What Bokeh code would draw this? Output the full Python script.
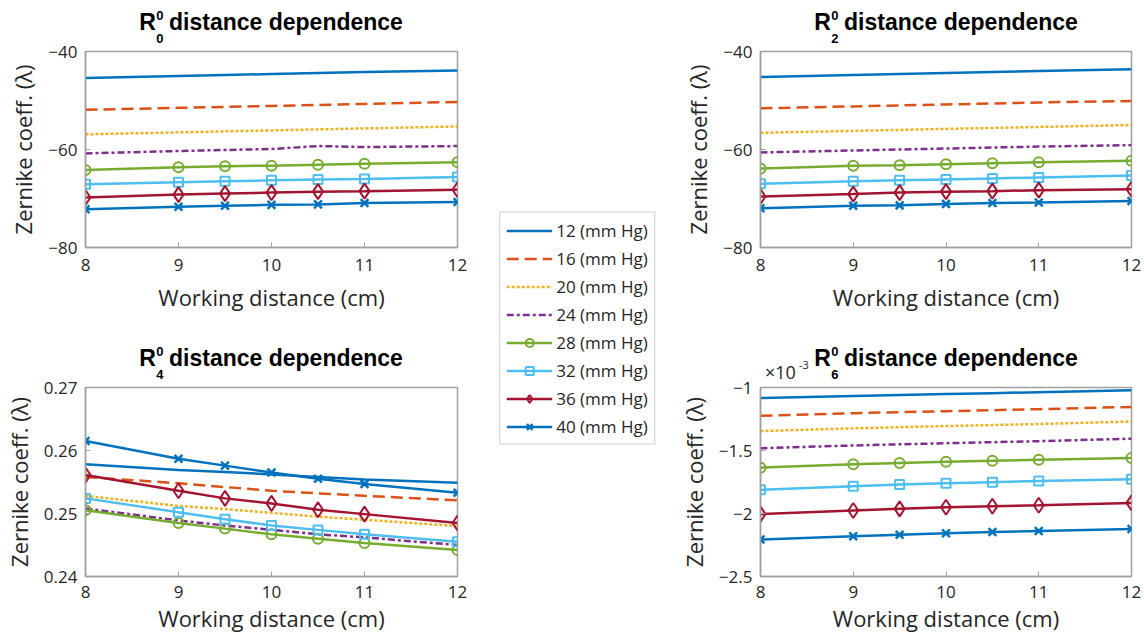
import json
import math
from bokeh.plotting import figure
from bokeh.layouts import row, column
from bokeh.models import (Range1d, FixedTicker, CustomJSTickFormatter, Legend, LegendItem,
                          LinearAxis)
from bokeh.embed import file_html
from bokeh.resources import INLINE

# ---------------- data ----------------
distance_cm = [8, 9, 9.5, 10, 10.5, 11, 12]
pressure_labels = ["12 (mm Hg)", "16 (mm Hg)", "20 (mm Hg)", "24 (mm Hg)",
                   "28 (mm Hg)", "32 (mm Hg)", "36 (mm Hg)", "40 (mm Hg)"]

r00 = [
    [-45.4, -45.0, -44.8, -44.6, -44.4, -44.2, -43.9],
    [-51.9, -51.5, -51.3, -51.1, -50.9, -50.7, -50.3],
    [-56.9, -56.5, -56.3, -56.1, -55.9, -55.7, -55.3],
    [-60.8, -60.3, -60.1, -59.9, -59.3, -59.5, -59.3],
    [-64.2, -63.6, -63.4, -63.3, -63.1, -62.9, -62.6],
    [-67.1, -66.7, -66.5, -66.3, -66.1, -66.0, -65.6],
    [-69.8, -69.2, -69.0, -68.8, -68.6, -68.5, -68.2],
    [-72.2, -71.7, -71.5, -71.3, -71.2, -70.9, -70.7],
]
r20 = [
    [-45.2, -44.8, -44.6, -44.4, -44.2, -44.0, -43.6],
    [-51.6, -51.2, -51.0, -50.8, -50.6, -50.4, -50.1],
    [-56.6, -56.2, -56.0, -55.8, -55.6, -55.4, -55.0],
    [-60.6, -60.2, -60.0, -59.8, -59.6, -59.4, -59.1],
    [-63.9, -63.3, -63.2, -63.0, -62.8, -62.6, -62.3],
    [-67.0, -66.5, -66.3, -66.1, -65.9, -65.7, -65.3],
    [-69.6, -69.1, -68.8, -68.6, -68.5, -68.3, -68.1],
    [-72.0, -71.5, -71.4, -71.1, -70.9, -70.8, -70.5],
]
r40 = [
    [0.2578, 0.2569, 0.2566, 0.2562, 0.2558, 0.2554, 0.2549],
    [0.2558, 0.2548, 0.2542, 0.2536, 0.2532, 0.2528, 0.2521],
    [0.2528, 0.2512, 0.2507, 0.2501, 0.2495, 0.2490, 0.2480],
    [0.2508, 0.2489, 0.2481, 0.2474, 0.2467, 0.2462, 0.2450],
    [0.2505, 0.2485, 0.2476, 0.2467, 0.2460, 0.2453, 0.2442],
    [0.2524, 0.2502, 0.2491, 0.2481, 0.2474, 0.2467, 0.2455],
    [0.2561, 0.2536, 0.2524, 0.2516, 0.2506, 0.2499, 0.2485],
    [0.2615, 0.2587, 0.2576, 0.2565, 0.2555, 0.2547, 0.2533],
]
# values in units of 1e-3
r60 = [
    [-1.084, -1.068, -1.060, -1.052, -1.045, -1.037, -1.021],
    [-1.225, -1.204, -1.196, -1.188, -1.180, -1.172, -1.154],
    [-1.346, -1.324, -1.315, -1.306, -1.298, -1.290, -1.270],
    [-1.482, -1.460, -1.451, -1.442, -1.434, -1.426, -1.406],
    [-1.636, -1.610, -1.599, -1.589, -1.581, -1.573, -1.560],
    [-1.812, -1.783, -1.770, -1.759, -1.751, -1.743, -1.728],
    [-2.005, -1.976, -1.963, -1.950, -1.942, -1.935, -1.916],
    [-2.207, -2.181, -2.168, -2.157, -2.147, -2.139, -2.123],
]
x_ticks = [8, 9, 10, 11, 12]

# ---------------- styles ----------------
COLORS = ["#0072BD", "#D95319", "#EDB120", "#7E2F8E", "#77AC30", "#4DBEEE", "#A2142F", "#0072BD"]
DASHES = ["solid", "12 6", "3 2", "7 3 3 3", "solid", "solid", "solid", "solid"]
MARKERS = [None, None, None, None, "circle", "square", "diamond", "x"]
MSIZES = [0, 0, 0, 0, 10, 9, 15, 11]
MLW = [0, 0, 0, 0, 2, 2, 2, 2.5]
LW = 2.5
FRAME = "#a0a0a0"
TXT = "#262626"
SANS = "Open Sans"
BOLD = "Liberation Sans"
# text-box height per em (font ascent + descent)
BOX_H = {BOLD: 1.117, SANS: 1.362}

minus_fmt = "return String(tick).replace('-', '\\u2212')"

BORDER_T = 51
BORDER_L = 84


def add_series(p, xs, ys, i):
    rs = [p.line(xs, ys, line_color=COLORS[i], line_width=LW, line_dash=DASHES[i])]
    if MARKERS[i]:
        rs.append(p.scatter(xs, ys, marker=MARKERS[i], size=MSIZES[i], line_color=COLORS[i],
                            line_width=MLW[i], fill_color=None))
    return rs


def title_pieces(p, frame_w, pieces):
    """Stack text-only axes above the frame.  Each piece:
    (texts, x-centres in px from frame left, font, size px, style, colour, baseline px above frame)
    Pieces are ordered by increasing top edge."""
    B = 0.0
    for texts, xs_px, font, size, style, color, base in pieces:
        h = BOX_H[font] * size
        standoff = int(round(base - B))
        if standoff + h < 0:
            standoff = int(math.ceil(-h))
        xs = [8 + 4.0 * x / frame_w for x in xs_px]
        ax = LinearAxis(ticker=FixedTicker(ticks=xs, minor_ticks=[]),
                        formatter=CustomJSTickFormatter(code="return %s[index]" % json.dumps(texts)),
                        axis_line_color=None, major_tick_line_color=None,
                        minor_tick_line_color=None, major_tick_in=0, major_tick_out=0,
                        minor_tick_in=0, minor_tick_out=0,
                        major_label_standoff=standoff,
                        major_label_text_font=font, major_label_text_font_size="%dpx" % size,
                        major_label_text_font_style=style, major_label_text_color=color)
        p.add_layout(ax, "above")
        B = B + standoff + h


def panel(series, y0, y1, yticks, width, height, mbr, mbb, tick_standoff, lab_standoff,
          sub, note=False):
    p = figure(width=width, height=height, output_backend="svg", toolbar_location=None,
               x_range=Range1d(8, 12), y_range=Range1d(y0, y1),
               min_border_left=BORDER_L, min_border_right=mbr, min_border_top=BORDER_T,
               min_border_bottom=mbb)
    frame_w = width - BORDER_L - mbr
    p.xgrid.visible = False
    p.ygrid.visible = False
    p.outline_line_color = FRAME
    p.outline_line_width = 1.5
    p.background_fill_color = "white"
    p.border_fill_color = "white"
    for ax, t in ((p.xaxis[0], x_ticks), (p.yaxis[0], yticks)):
        ax.ticker = FixedTicker(ticks=t, minor_ticks=[])
        ax.formatter = CustomJSTickFormatter(code=minus_fmt)
        ax.major_tick_in = 5
        ax.major_tick_out = 0
        ax.major_tick_line_color = FRAME
        ax.axis_line_color = FRAME
        ax.axis_line_width = 1.5
        ax.major_label_text_font = SANS
        ax.major_label_text_font_size = "17px"
        ax.major_label_text_color = TXT
        ax.axis_label_text_font = SANS
        ax.axis_label_text_font_size = "22px"
        ax.axis_label_text_font_style = "normal"
        ax.axis_label_text_color = TXT
    p.xaxis.major_label_standoff = tick_standoff
    p.xaxis.axis_label = "Working distance (cm)"
    p.xaxis.axis_label_standoff = lab_standoff
    p.yaxis.major_label_standoff = 8
    p.yaxis.axis_label = "Zernike coeff. (\u03bb)"
    p.yaxis.axis_label_standoff = 7
    for i, ys in enumerate(series):
        add_series(p, distance_cm, ys, i)

    pieces = [([sub], [74.6], BOLD, 13, "bold", "black", 9)]
    if note:
        pieces.append((["\u00d710"], [20], SANS, 18, "normal", TXT, 7))
        pieces.append((["-3"], [43.5], SANS, 11, "normal", TXT, 19))
    pieces.append((["R", "distance dependence"], [62.3, 201], BOLD, 23, "bold", "black", 20))
    pieces.append((["0"], [74.6], BOLD, 13, "bold", "black", 31))
    title_pieces(p, frame_w, pieces)
    return p


LEFT_W, RIGHT_W, MID_W = 477, 469, 198
LEFT_BR, RIGHT_BR = 20, 13
TOP_H = BORDER_T + 196 + 89
BOT_H = 640 - TOP_H

tl = panel(r00, -80, -40, [-80, -60, -40], LEFT_W, TOP_H, LEFT_BR, 89, 11, 8, "0")
bl = panel(r40, 0.24, 0.27, [0.24, 0.25, 0.26, 0.27], LEFT_W, BOT_H, LEFT_BR, 64, 9, 2, "4")
tr = panel(r20, -80, -40, [-80, -60, -40], RIGHT_W, TOP_H, RIGHT_BR, 89, 11, 8, "2")
br = panel(r60, -2.5, -1, [-2.5, -2, -1.5, -1], RIGHT_W, BOT_H, RIGHT_BR, 64, 9, 2, "6",
           note=True)

# legend holder
mid = figure(width=MID_W, height=640, output_backend="svg", toolbar_location=None,
             x_range=Range1d(0, 1), y_range=Range1d(0, 1), x_axis_type=None, y_axis_type=None,
             min_border_left=2, min_border_right=0, min_border_top=16, min_border_bottom=0)
mid.xgrid.visible = False
mid.ygrid.visible = False
mid.outline_line_color = None
items = []
for i, lab in enumerate(pressure_labels):
    rs = add_series(mid, [-5, -4], [-5, -4], i)
    items.append(LegendItem(label=lab, renderers=rs))
legend = Legend(items=items, location="center", label_text_font=SANS, label_text_font_size="17px",
                label_text_color=TXT, glyph_width=46, glyph_height=20, label_height=20, spacing=5,
                padding=6, margin=0, label_standoff=4, border_line_color=FRAME,
                border_line_width=1.5, background_fill_alpha=1.0)
mid.add_layout(legend, "center")

layout = row(column(tl, bl), mid, column(tr, br))
open("out.html", "w").write(file_html(layout, INLINE))
